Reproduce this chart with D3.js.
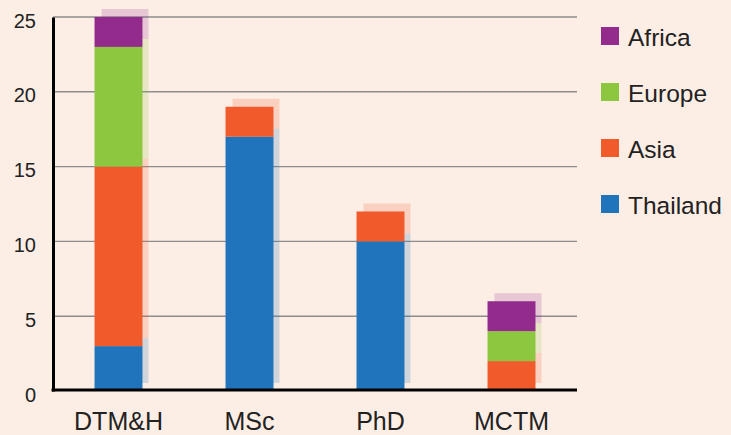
<!DOCTYPE html>
<html>
<head>
<meta charset="utf-8">
<script src="https://cdn.jsdelivr.net/npm/d3@7"></script>
<style>
  html, body { margin: 0; padding: 0; background: #fdeee5; }
  svg { display: block; font-family: "Liberation Sans", Helvetica, Arial, sans-serif; }
</style>
</head>
<body>
<svg id="chart" width="731" height="435"></svg>
<script>
// Programmes on the x axis
const programmes = ["DTM&H", "MSc", "PhD", "MCTM"];
// Student counts per region, stacked bottom to top
const thailand = [3, 17, 10, 0];
const asia     = [12, 2, 2, 2];
const europe   = [8, 0, 0, 2];
const africa   = [2, 0, 0, 2];
const regions  = ["Thailand", "Asia", "Europe", "Africa"];
const colors   = ["#1f74bb", "#f15a2b", "#8dc63f", "#922b8c"];
const yTicks   = [0, 5, 10, 15, 20, 25];

const rows = programmes.map((p, i) => ({
  programme: p,
  Thailand: thailand[i], Asia: asia[i], Europe: europe[i], Africa: africa[i]
}));
const series = d3.stack().keys(regions)(rows);

const svg = d3.select("#chart");
const plotLeft = 53, plotRight = 577, plotTop = 17, plotBottom = 391;

const x = d3.scaleBand().domain(programmes).range([plotLeft, plotRight])
  .paddingInner(0.634).paddingOuter(0.317);
const y = d3.scaleLinear().domain([0, 25]).range([plotBottom, plotTop]);
const color = d3.scaleOrdinal().domain(regions).range(colors);

// horizontal grid lines
svg.append("g").selectAll("line").data(yTicks.filter(t => t > 0)).join("line")
  .attr("x1", plotLeft).attr("x2", plotRight)
  .attr("y1", d => y(d)).attr("y2", d => y(d))
  .attr("stroke", "#8c8c8c").attr("stroke-width", 1.4);

// soft offset shadow behind each segment
const shOff = 7;
svg.append("g").selectAll("g").data(series).join("g")
  .attr("fill", d => color(d.key)).attr("fill-opacity", 0.2)
  .selectAll("rect").data(d => d.filter(s => s[1] > s[0])).join("rect")
  .attr("x", d => x(d.data.programme) + shOff)
  .attr("y", d => y(d[1]) - 8)
  .attr("width", x.bandwidth() - 1)
  .attr("height", d => y(d[0]) - y(d[1]));

// stacked bars
svg.append("g").selectAll("g").data(series).join("g")
  .attr("fill", d => color(d.key))
  .selectAll("rect").data(d => d.filter(s => s[1] > s[0])).join("rect")
  .attr("x", d => x(d.data.programme))
  .attr("y", d => y(d[1]))
  .attr("width", x.bandwidth())
  .attr("height", d => y(d[0]) - y(d[1]));

// axes
const yAxis = svg.append("g").attr("transform", `translate(${plotLeft},0)`)
  .call(d3.axisLeft(y).tickValues(yTicks).tickSize(0).tickPadding(17));
yAxis.select(".domain").attr("stroke", "#000").attr("stroke-width", 3);
yAxis.selectAll("text").attr("font-size", 20).attr("fill", "#222")
  .attr("font-family", "Liberation Sans, Helvetica, Arial, sans-serif")
  .attr("dy", "0.5em");

const xAxis = svg.append("g").attr("transform", `translate(0,${plotBottom - 1})`)
  .call(d3.axisBottom(x).tickSize(0).tickPadding(22));
xAxis.select(".domain").attr("stroke", "#000").attr("stroke-width", 3)
  .attr("d", `M${plotLeft - 1.5},0H${plotRight}`);
xAxis.selectAll("text").attr("font-size", 25).attr("fill", "#222")
  .attr("font-family", "Liberation Sans, Helvetica, Arial, sans-serif");

// legend, top entry first
const legendItems = regions.slice().reverse();
const lg = svg.append("g").selectAll("g").data(legendItems).join("g")
  .attr("transform", (d, i) => `translate(601,${27 + i * 56})`);
lg.append("rect").attr("width", 18).attr("height", 18).attr("fill", d => color(d));
lg.append("text").attr("x", 27).attr("y", 19)
  .attr("font-size", 24.5).attr("fill", "#222").text(d => d);
</script>
</body>
</html>
